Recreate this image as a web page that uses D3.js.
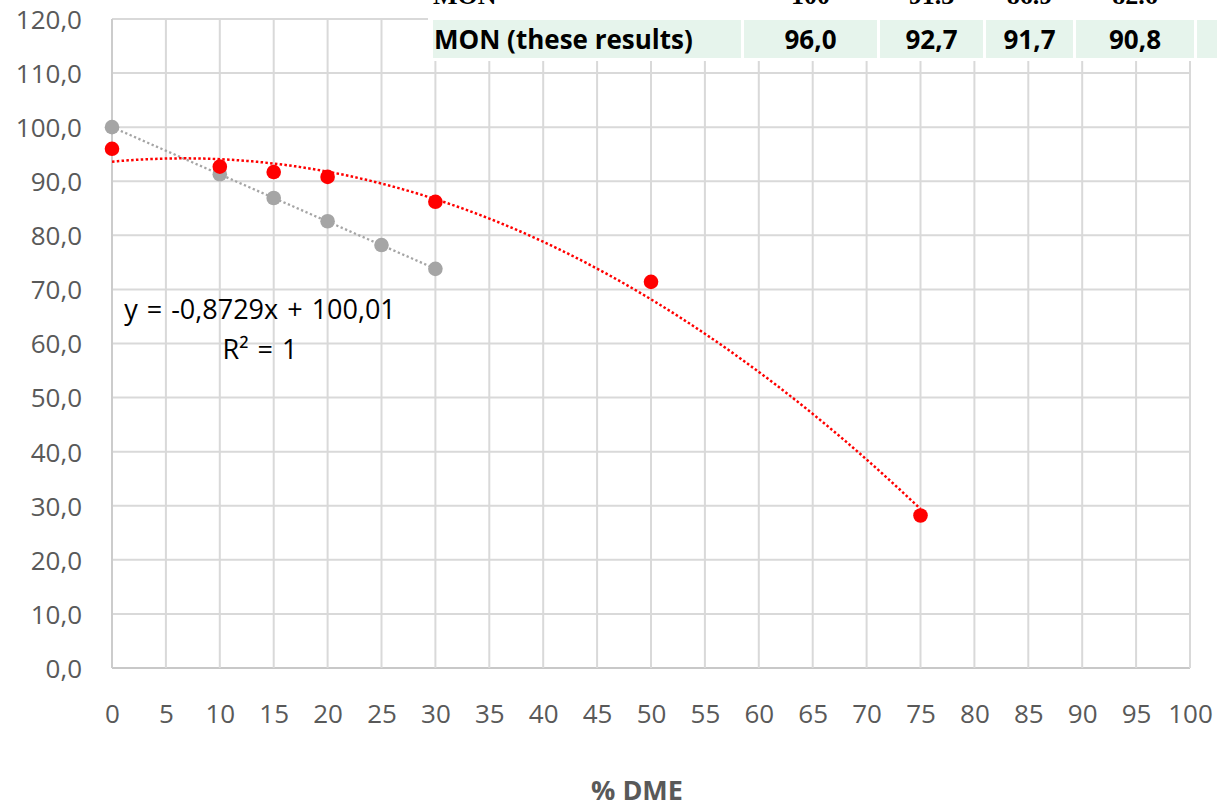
<!DOCTYPE html>
<html>
<head>
<meta charset="utf-8">
<script src="https://cdn.jsdelivr.net/npm/d3@7"></script>
<style>
  html, body { margin: 0; padding: 0; background: #fff; }
  svg { display: block; }
</style>
</head>
<body>
<svg id="chart" width="1217" height="805"></svg>
<script>
// Measured series: %DME in the blend vs. motor octane number (MON)
const dmeTheory = [0, 10, 15, 20, 25, 30];
const monTheory = [100.0, 91.3, 86.9, 82.6, 78.2, 73.8];

const dmeMeasured = [0, 10, 15, 20, 30, 50, 75];
const monMeasured = [96.0, 92.7, 91.7, 90.8, 86.2, 71.4, 28.2];

// Linear trendline of the reference series (slope, intercept) and its label
const linearTrend = [-0.8729, 100.01];
const trendLabel = ["y = -0,8729x + 100,01", "R² = 1"];

// Table rows shown across the top
const tableTopLabel = "MON";
const tableTopValues = ["100", "91.3", "86.9", "82.6"];
const tableRowLabel = "MON (these results)";
const tableRowValues = ["96,0", "92,7", "91,7", "90,8"];

const xTicks = d3.range(0, 101, 5);
const yTicks = d3.range(0, 121, 10);
const xTitle = "% DME";

const svg = d3.select("#chart");
const x = d3.scaleLinear().domain([0, 100]).range([112, 1190]);
const y = d3.scaleLinear().domain([0, 120]).range([668, 19]);
const fmt = v => d3.format(".1f")(v).replace(".", ",");

// gridlines
const grid = svg.append("g");
grid.selectAll(".gy").data(yTicks).join("line")
  .attr("x1", x(0)).attr("x2", x(100))
  .attr("y1", d => y(d)).attr("y2", d => y(d))
  .attr("stroke", d => d === 0 ? "#c8c8c8" : "#d9d9d9").attr("stroke-width", 2);
grid.selectAll(".gx").data(xTicks).join("line")
  .attr("x1", d => x(d)).attr("x2", d => x(d))
  .attr("y1", y(0)).attr("y2", y(120))
  .attr("stroke", d => d === 0 ? "#cccccc" : "#d9d9d9").attr("stroke-width", 2);

// axes (labels only)
const yAxis = d3.axisLeft(y).tickValues(yTicks).tickFormat(fmt).tickSize(0).tickPadding(30);
const xAxis = d3.axisBottom(x).tickValues(xTicks).tickFormat(d3.format("d")).tickSize(0).tickPadding(37);
const gy = svg.append("g").attr("transform", `translate(${x(0)},0)`).call(yAxis);
const gx = svg.append("g").attr("transform", `translate(0,${y(0)})`).call(xAxis);
[gx, gy].forEach(g => {
  g.select(".domain").remove();
  g.selectAll("text").attr("fill", "#595959")
    .style("font-family", "'Open Sans', sans-serif").style("font-size", "26px");
});
gy.selectAll("text").attr("dy", "0.36em");

svg.append("text").attr("x", 637).attr("y", 800)
  .attr("text-anchor", "middle").attr("fill", "#595959")
  .style("font-family", "'Open Sans', sans-serif").style("font-size", "27px").style("font-weight", "bold")
  .text(xTitle);

// quadratic least-squares trendline for the measured series
function polyFit2(xs, ys) {
  const S = [0, 0, 0, 0, 0], T = [0, 0, 0];
  xs.forEach((xv, i) => {
    for (let k = 0; k < 5; k++) S[k] += Math.pow(xv, k);
    for (let k = 0; k < 3; k++) T[k] += ys[i] * Math.pow(xv, k);
  });
  const A = [[S[0], S[1], S[2], T[0]], [S[1], S[2], S[3], T[1]], [S[2], S[3], S[4], T[2]]];
  for (let i = 0; i < 3; i++) {
    for (let j = i + 1; j < 3; j++) {
      const f = A[j][i] / A[i][i];
      for (let k = i; k < 4; k++) A[j][k] -= f * A[i][k];
    }
  }
  const c = [0, 0, 0];
  for (let i = 2; i >= 0; i--) {
    let s = A[i][3];
    for (let k = i + 1; k < 3; k++) s -= A[i][k] * c[k];
    c[i] = s / A[i][i];
  }
  return c;
}
const q = polyFit2(dmeMeasured, monMeasured);
const quadPts = d3.range(0, 75.01, 0.5).map(t => [t, q[0] + q[1] * t + q[2] * t * t]);
const linPts = [0, 30].map(t => [t, linearTrend[1] + linearTrend[0] * t]);
const line = d3.line().x(d => x(d[0])).y(d => y(d[1]));

svg.append("path").attr("d", line(linPts)).attr("fill", "none")
  .attr("stroke", "#a5a5a5").attr("stroke-width", 2.3).attr("stroke-dasharray", "2.3,2.5");
svg.append("path").attr("d", line(quadPts)).attr("fill", "none")
  .attr("stroke", "#ff0000").attr("stroke-width", 2.5).attr("stroke-dasharray", "2.5,2.3");

// markers
svg.append("g").selectAll("circle").data(dmeTheory.map((d, i) => [d, monTheory[i]])).join("circle")
  .attr("cx", d => x(d[0])).attr("cy", d => y(d[1])).attr("r", 7.3).attr("fill", "#a5a5a5");
svg.append("g").selectAll("circle").data(dmeMeasured.map((d, i) => [d, monMeasured[i]])).join("circle")
  .attr("cx", d => x(d[0])).attr("cy", d => y(d[1])).attr("r", 7.3).attr("fill", "#ff0000");

// trendline label
const lbl = svg.append("text").attr("text-anchor", "middle").attr("fill", "#000")
  .style("font-family", "'Open Sans', sans-serif").style("font-size", "27px").style("word-spacing", "2px");
lbl.selectAll("tspan").data(trendLabel).join("tspan")
  .attr("x", 260).attr("y", (d, i) => 319 + i * 40).text(d => d);

// table overlay across the top
const tbl = svg.append("g");
tbl.append("rect").attr("x", 428).attr("y", 0).attr("width", 789).attr("height", 61).attr("fill", "#fff");
const cellX = [433, 744, 880, 986, 1076, 1197];
const cellW = [308, 133, 103, 87, 118, 20];
tbl.selectAll(".cell").data(cellX).join("rect")
  .attr("x", d => d).attr("y", 20).attr("width", (d, i) => cellW[i]).attr("height", 38)
  .attr("fill", "#e6f4ec");
const topFont = "'Liberation Serif', serif";
tbl.append("text").attr("x", 433).attr("y", 4).attr("fill", "#000")
  .style("font-family", topFont).style("font-size", "26px").style("font-weight", "bold")
  .text(tableTopLabel);
tbl.selectAll(".tv").data(tableTopValues).join("text")
  .attr("x", (d, i) => cellX[i + 1] + cellW[i + 1] / 2).attr("y", 4)
  .attr("text-anchor", "middle").attr("fill", "#000")
  .style("font-family", topFont).style("font-size", "26px").style("font-weight", "bold")
  .text(d => d);
const rowFont = "'Open Sans', sans-serif";
tbl.append("text").attr("x", 434).attr("y", 49).attr("fill", "#000")
  .style("font-family", rowFont).style("font-size", "26px").style("font-weight", "bold")
  .text(tableRowLabel);
tbl.selectAll(".rv").data(tableRowValues).join("text")
  .attr("x", (d, i) => cellX[i + 1] + cellW[i + 1] / 2).attr("y", 49)
  .attr("text-anchor", "middle").attr("fill", "#000")
  .style("font-family", rowFont).style("font-size", "26px").style("font-weight", "bold")
  .text(d => d);
</script>
</body>
</html>
